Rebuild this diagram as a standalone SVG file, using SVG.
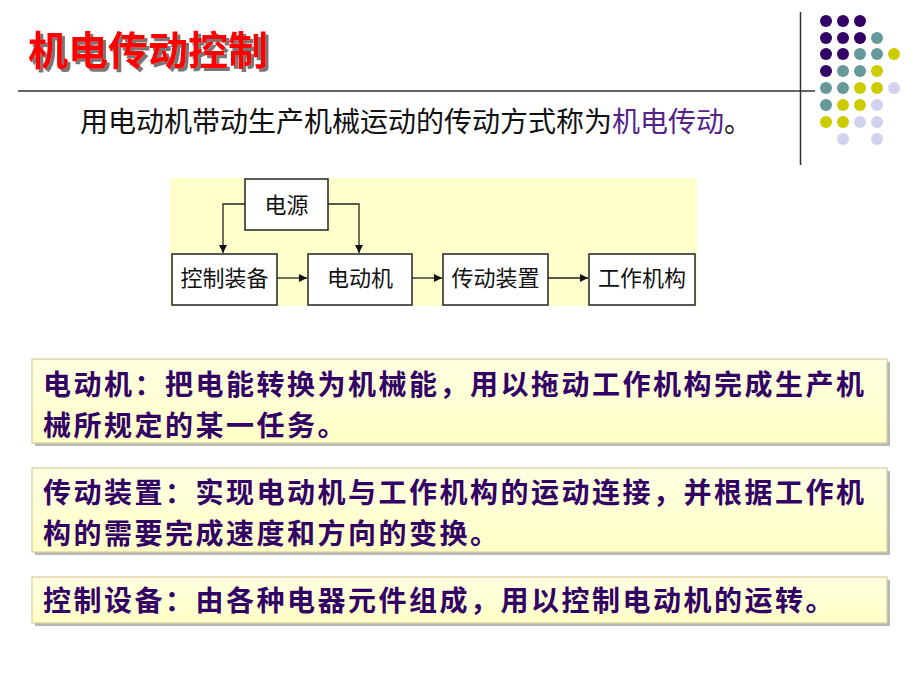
<svg xmlns="http://www.w3.org/2000/svg" width="920" height="690" viewBox="0 0 920 690">
<defs>
<style>
.cjk{font-family:"Noto Sans CJK SC","Noto Sans CJK TC",sans-serif}
.node rect{fill:#fff;stroke:#222;stroke-width:1.5}
.node text{font-size:22px;fill:#111;text-anchor:middle}
.conn{fill:none;stroke:#222;stroke-width:1.3;marker-end:url(#ah)}
.note .bg{fill:url(#ng);stroke:#D9CE9C;stroke-width:1.2}
.note .sh{fill:#B8B8B8}
.note text{font-size:28px;font-weight:bold;fill:#330066;letter-spacing:2.5px}
.p{fill:#330066}.t{fill:#669999}.y{fill:#CCCC00}.l{fill:#D2D2EE}
</style>
<filter id="tsh" x="-5%" y="-20%" width="115%" height="150%"><feDropShadow dx="3" dy="3" stdDeviation="0.6" flood-color="#777" flood-opacity="1"/></filter>
<marker id="ah" viewBox="0 0 10 10" refX="10" refY="5" markerWidth="8" markerHeight="8" markerUnits="userSpaceOnUse" orient="auto"><path d="M0,0 L10,5 L0,10 z" fill="#111"/></marker>
<linearGradient id="ng" x1="0" y1="0" x2="0" y2="1"><stop offset="0" stop-color="#FFFFE2"/><stop offset="1" stop-color="#FFFFC6"/></linearGradient>
</defs>
<rect width="920" height="690" fill="#fff"/>
<g id="title" class="cjk" font-size="40" font-weight="bold">
<text x="28" y="65" fill="#FF0000" filter="url(#tsh)">机电传动控制</text>
</g>
<g id="rules" stroke="#333">
<line x1="18" y1="91" x2="815" y2="91" stroke-width="1.5"/>
<line x1="800.5" y1="12" x2="800.5" y2="165" stroke-width="1.5"/>
</g>
<g id="dots">
<circle class="p" cx="826" cy="21" r="6"/><circle class="p" cx="843" cy="21" r="6"/><circle class="p" cx="860" cy="21" r="6"/>
<circle class="p" cx="826" cy="38" r="6"/><circle class="p" cx="843" cy="38" r="6"/><circle class="p" cx="860" cy="38" r="6"/><circle class="t" cx="877" cy="38" r="6"/>
<circle class="p" cx="826" cy="54" r="6"/><circle class="p" cx="843" cy="54" r="6"/><circle class="t" cx="860" cy="54" r="6"/><circle class="t" cx="877" cy="54" r="6"/><circle class="y" cx="894" cy="54" r="6"/>
<circle class="p" cx="826" cy="71" r="6"/><circle class="t" cx="843" cy="71" r="6"/><circle class="t" cx="860" cy="71" r="6"/><circle class="y" cx="877" cy="71" r="6"/>
<circle class="t" cx="826" cy="88" r="6"/><circle class="t" cx="843" cy="88" r="6"/><circle class="y" cx="860" cy="88" r="6"/><circle class="y" cx="877" cy="88" r="6"/><circle class="l" cx="894" cy="88" r="6"/>
<circle class="t" cx="826" cy="105" r="6"/><circle class="y" cx="843" cy="105" r="6"/><circle class="y" cx="860" cy="105" r="6"/><circle class="l" cx="877" cy="105" r="6"/>
<circle class="y" cx="826" cy="122" r="6"/><circle class="y" cx="843" cy="122" r="6"/><circle class="l" cx="860" cy="122" r="6"/><circle class="l" cx="877" cy="122" r="6"/>
<circle class="l" cx="843" cy="139" r="6"/><circle class="l" cx="877" cy="139" r="6"/>
</g>
<g id="subtitle" class="cjk" font-size="28"><text x="80" y="132" fill="#111">用电动机带动生产机械运动的传动方式称为<tspan fill="#552288">机电传动</tspan>。</text></g>
<rect id="diagram-bg" x="170" y="178" width="527" height="128" fill="#FFFFCC"/>
<g id="connectors">
<path class="conn" d="M245,204 H223 V253"/>
<path class="conn" d="M328,204 H359 V253"/>
<path class="conn" d="M277,278 H307"/>
<path class="conn" d="M412,278 H442"/>
<path class="conn" d="M548,278 H588"/>
</g>
<g id="n-power" class="node cjk"><rect x="245" y="179" width="83" height="51"/><text x="286.5" y="213">电源</text></g>
<g id="n-control" class="node cjk"><rect x="172" y="254" width="105" height="51"/><text x="224.5" y="286">控制装备</text></g>
<g id="n-motor" class="node cjk"><rect x="308" y="254" width="104" height="51"/><text x="360" y="286">电动机</text></g>
<g id="n-transmission" class="node cjk"><rect x="443" y="254" width="105" height="51"/><text x="495.5" y="286">传动装置</text></g>
<g id="n-mechanism" class="node cjk"><rect x="589" y="254" width="106" height="51"/><text x="642" y="286">工作机构</text></g>
<g id="note-motor" class="note cjk">
<rect class="sh" x="35" y="362" width="855" height="84"/>
<rect class="bg" x="32" y="359" width="855" height="84"/>
<text x="43" y="395">电动机：把电能转换为机械能，用以拖动工作机构完成生产机</text>
<text x="43" y="436">械所规定的某一任务。</text>
</g>
<g id="note-transmission" class="note cjk">
<rect class="sh" x="35" y="471" width="855" height="84"/>
<rect class="bg" x="32" y="468" width="855" height="84"/>
<text x="43" y="503">传动装置：实现电动机与工作机构的运动连接，并根据工作机</text>
<text x="43" y="544">构的需要完成速度和方向的变换。</text>
</g>
<g id="note-control" class="note cjk">
<rect class="sh" x="35" y="580" width="855" height="46"/>
<rect class="bg" x="32" y="577" width="855" height="46"/>
<text x="43" y="611">控制设备：由各种电器元件组成，用以控制电动机的运转。</text>
</g>
</svg>
